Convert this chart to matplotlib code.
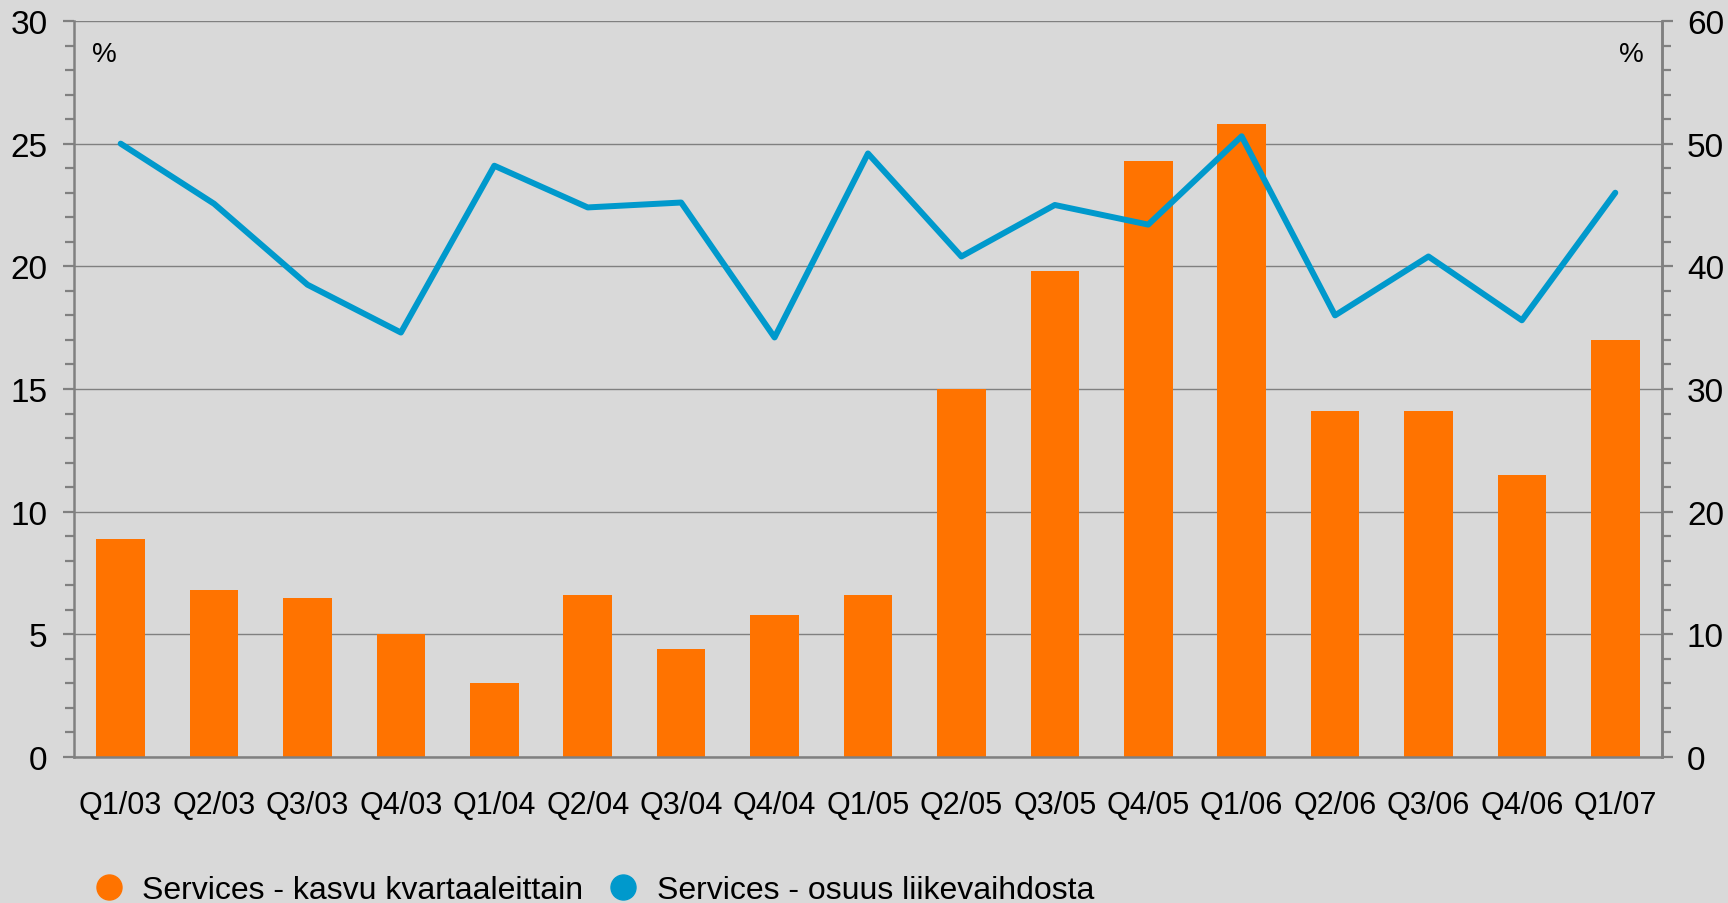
import matplotlib
matplotlib.use('Agg')
import matplotlib.pyplot as plt
from matplotlib.lines import Line2D

plt.rcParams['font.family'] = ['Liberation Sans', 'DejaVu Sans']

quarters = ['Q1/03', 'Q2/03', 'Q3/03', 'Q4/03', 'Q1/04', 'Q2/04', 'Q3/04', 'Q4/04',
            'Q1/05', 'Q2/05', 'Q3/05', 'Q4/05', 'Q1/06', 'Q2/06', 'Q3/06', 'Q4/06', 'Q1/07']
kasvu = [8.9, 6.8, 6.5, 5.0, 3.0, 6.6, 4.4, 5.8, 6.6, 15.0, 19.8, 24.3, 25.8, 14.1, 14.1, 11.5, 17.0]
osuus = [50.0, 45.1, 38.5, 34.6, 48.2, 44.8, 45.2, 34.2, 49.2, 40.8, 45.0, 43.4, 50.6, 36.0, 40.8, 35.6, 46.0]

BG = '#d9d9d9'
ORANGE = '#ff7300'
BLUE = '#0099cc'
GRAY = '#808080'

fig = plt.figure(figsize=(17.28, 9.04), dpi=100, facecolor=BG)
ax = fig.add_axes([0.0428, 0.1615, 0.9190, 0.8142])
ax.set_facecolor(BG)
x = list(range(len(quarters)))
ax.bar(x, kasvu, width=0.52, color=ORANGE, zorder=2)
ax.set_xlim(-0.5, len(quarters) - 0.5)
ax.set_ylim(0, 30)
ax.set_yticks(range(0, 31, 5))
ax.set_yticks(range(0, 31), minor=True)
ax.grid(axis='y', which='major', color=GRAY, linewidth=1, zorder=0)
ax.set_xticks(x)
ax.set_xticklabels(quarters)
ax.tick_params(axis='x', length=0, pad=24, labelsize=22)
ax.tick_params(axis='y', which='major', length=8, width=1.6, color=GRAY, pad=11, labelsize=24)
ax.tick_params(axis='y', which='minor', length=6.5, width=1.6, color=GRAY)
for s in ['left', 'bottom', 'right']:
    ax.spines[s].set_color(GRAY)
    ax.spines[s].set_linewidth(1.8)
ax.spines['top'].set_visible(False)

ax2 = ax.twinx()
ax2.plot(x, osuus, color=BLUE, linewidth=4.3, solid_joinstyle='round',
         solid_capstyle='round', zorder=3)
ax2.set_ylim(0, 60)
ax2.set_yticks(range(0, 61, 10))
ax2.set_yticks(range(0, 61, 2), minor=True)
ax2.tick_params(axis='y', which='major', length=8, width=1.6, color=GRAY, pad=10, labelsize=24)
ax2.tick_params(axis='y', which='minor', length=6.5, width=1.6, color=GRAY)
for s in ['left', 'right', 'top', 'bottom']:
    ax2.spines[s].set_visible(False)
ax2.spines['right'].set_visible(True)
ax2.spines['right'].set_color(GRAY)
ax2.spines['right'].set_linewidth(1.8)

ax.text(0.019, 0.955, '%', transform=ax.transAxes, fontsize=20, ha='center', va='center')
ax.text(0.981, 0.955, '%', transform=ax.transAxes, fontsize=20, ha='center', va='center')

handles = [Line2D([], [], linestyle='none', marker='o', markersize=18, color=ORANGE),
           Line2D([], [], linestyle='none', marker='o', markersize=18, color=BLUE)]
fig.legend(handles, ['Services - kasvu kvartaaleittain', 'Services - osuus liikevaihdosta'],
           loc='center left', bbox_to_anchor=(0.037, 0.014), ncol=2, frameon=False,
           fontsize=23, handletextpad=0.55, columnspacing=0.75, handlelength=1.0)

fig.savefig('out.png', dpi=100, facecolor=BG)
